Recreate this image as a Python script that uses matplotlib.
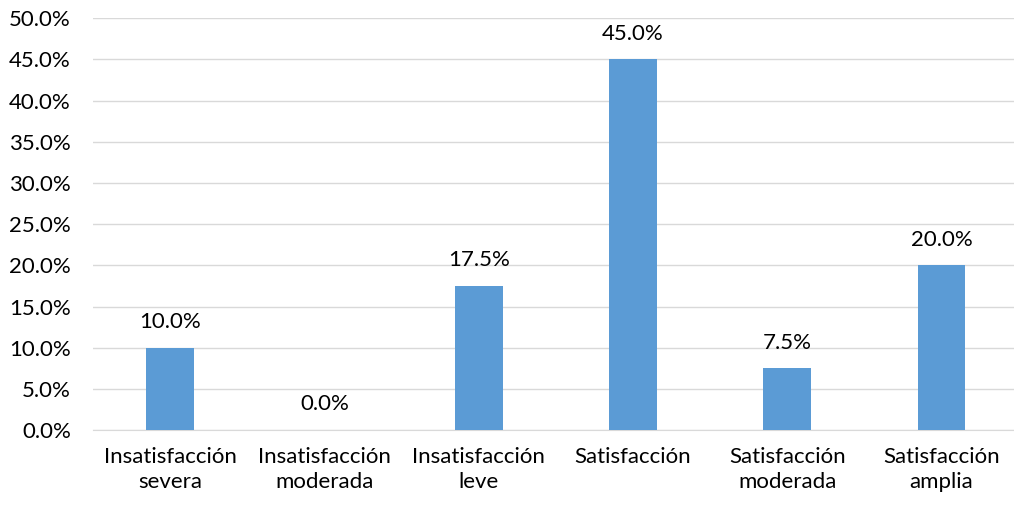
import matplotlib.pyplot as plt
from matplotlib.ticker import PercentFormatter

categories = ["Insatisfacción\nsevera", "Insatisfacción\nmoderada", "Insatisfacción\nleve",
              "Satisfacción", "Satisfacción\nmoderada", "Satisfacción\namplia"]
values = [10.0, 0.0, 17.5, 45.0, 7.5, 20.0]

plt.rcParams['font.family'] = ['Lato', 'DejaVu Sans']

fig = plt.figure(figsize=(10.14, 5.17), dpi=100)
ax = fig.add_axes([0.0917, 0.168, 0.9083, 0.797])

x = range(len(categories))
bars = ax.bar(x, values, width=0.31, color='#5B9BD5', zorder=3)
for xi, v in zip(x, values):
    ax.text(xi, v + 1.9, f"{v:.1f}%", ha='center', va='bottom', fontsize=16, color='black')

ax.set_ylim(0, 50)
ax.set_xlim(-0.5, 5.47)
ax.set_yticks([i * 5 for i in range(11)])
ax.yaxis.set_major_formatter(PercentFormatter(decimals=1))
ax.set_xticks(list(x))
ax.set_xticklabels(categories, fontsize=16, linespacing=1.3)
ax.tick_params(axis='y', labelsize=16, length=0, pad=16)
ax.tick_params(axis='x', length=0, pad=12)
ax.grid(axis='y', color='#D9D9D9', linewidth=1, zorder=0)
for s in ['top', 'right', 'left']:
    ax.spines[s].set_visible(False)
ax.spines['bottom'].set_color('#D9D9D9')

fig.savefig('out.png', dpi=100)
